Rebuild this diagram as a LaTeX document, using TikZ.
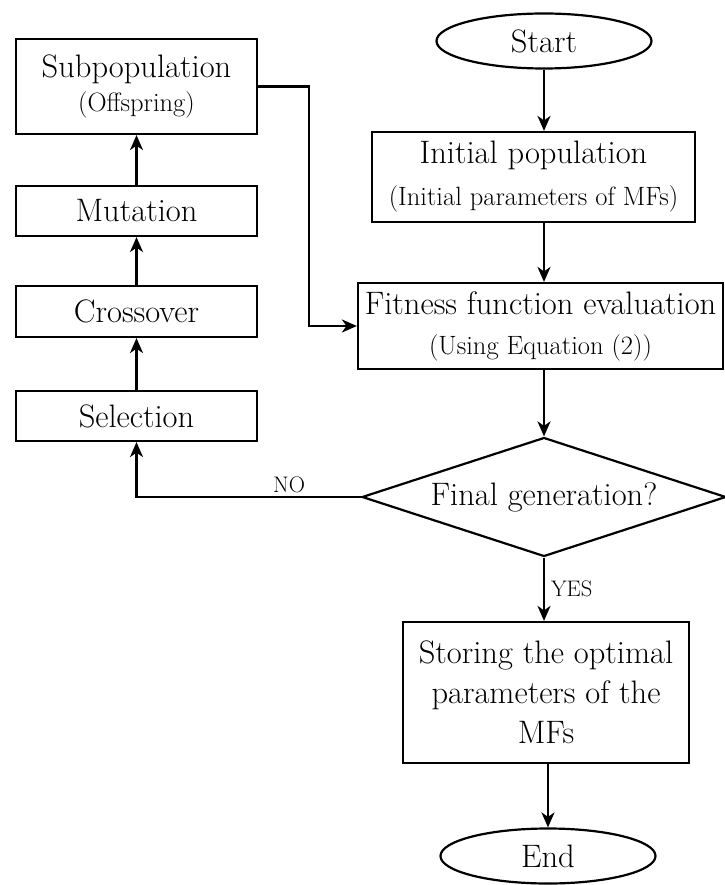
\documentclass[tikz,border=0pt]{standalone}
\usepackage{fontspec}
\usetikzlibrary{shapes.geometric,arrows.meta}
\newcommand\mainf{\fontsize{32.5}{38}\selectfont}
\newcommand\subf{\fontsize{26.5}{30}\selectfont}
\newcommand\lblf{\fontsize{22.5}{24}\selectfont}
\begin{document}
\begin{tikzpicture}[x=1pt,y=-1pt,
  line width=2.2pt,
  proc/.style={draw, rectangle, inner sep=0pt, align=center, font=\mainf},
  term/.style={draw, ellipse, inner sep=0pt, font=\mainf,
    minimum width=215pt, minimum height=55pt},
  decide/.style={draw, diamond, aspect=3.06, inner sep=0pt, font=\mainf,
    minimum width=364pt, minimum height=119pt},
  arr/.style={-{Stealth[length=15pt,width=13pt,inset=4.5pt]}},
  lbl/.style={font=\lblf, inner sep=2pt}]
\useasboundingbox (0,0) rectangle (724,885);

% main column
\coordinate (spine) at (544,0);
\node[term] (start) at (544,41) {Start};
\node[proc, minimum width=323pt, minimum height=90pt] (init) at (533.5,177)
  {Initial population\\[4pt]{\subf (Initial parameters of MFs)}};
\node[proc, minimum width=365pt, minimum height=86pt] (fit) at (540.5,326)
  {Fitness function evaluation\\[2pt]{\subf (Using Equation (2))}};
\node[decide] (dia) at (544,497) {Final generation?};
\node[proc, minimum width=286pt, minimum height=141pt,
  font=\fontsize{32.5}{40}\selectfont] (store) at (546,692.5)
  {Storing the optimal\\parameters of the\\MFs};
\node[term] (end) at (548,856) {End};

% genetic operators column
\node[proc, minimum width=241pt, minimum height=95pt] (sub) at (136.5,86.5)
  {\rule{0pt}{12pt}Subpopulation\\[-4pt]{\subf (Offspring)}};
\node[proc, minimum width=241pt, minimum height=50pt] (mut) at (136.5,211) {Mutation};
\node[proc, minimum width=241pt, minimum height=51pt] (cross) at (136.5,311.5) {Crossover};
\node[proc, minimum width=241pt, minimum height=50pt] (sel) at (136.5,416) {Selection};

% connectors
\draw[arr] (start.south) -- (start.south |- init.north);
\draw[arr] (spine |- init.south) -- (spine |- fit.north);
\draw[arr] (spine |- fit.south) -- (dia.north);
\draw[arr] (dia.south) -- (dia.south |- store.north)
  node[lbl, midway, anchor=west, xshift=4pt] {YES};
\draw[arr] (store.south -| end.north) -- (end.north);
\draw[arr] (dia.west) -| (sel.south)
  node[lbl, pos=0.16, above=1pt] {NO};
\draw[arr] (sel.north) -- (cross.south);
\draw[arr] (cross.north) -- (mut.south);
\draw[arr] (mut.north) -- (sub.south);
\draw[arr] (sub.east) -- ++(50.5,0) |- (fit.west);
\end{tikzpicture}
\end{document}
